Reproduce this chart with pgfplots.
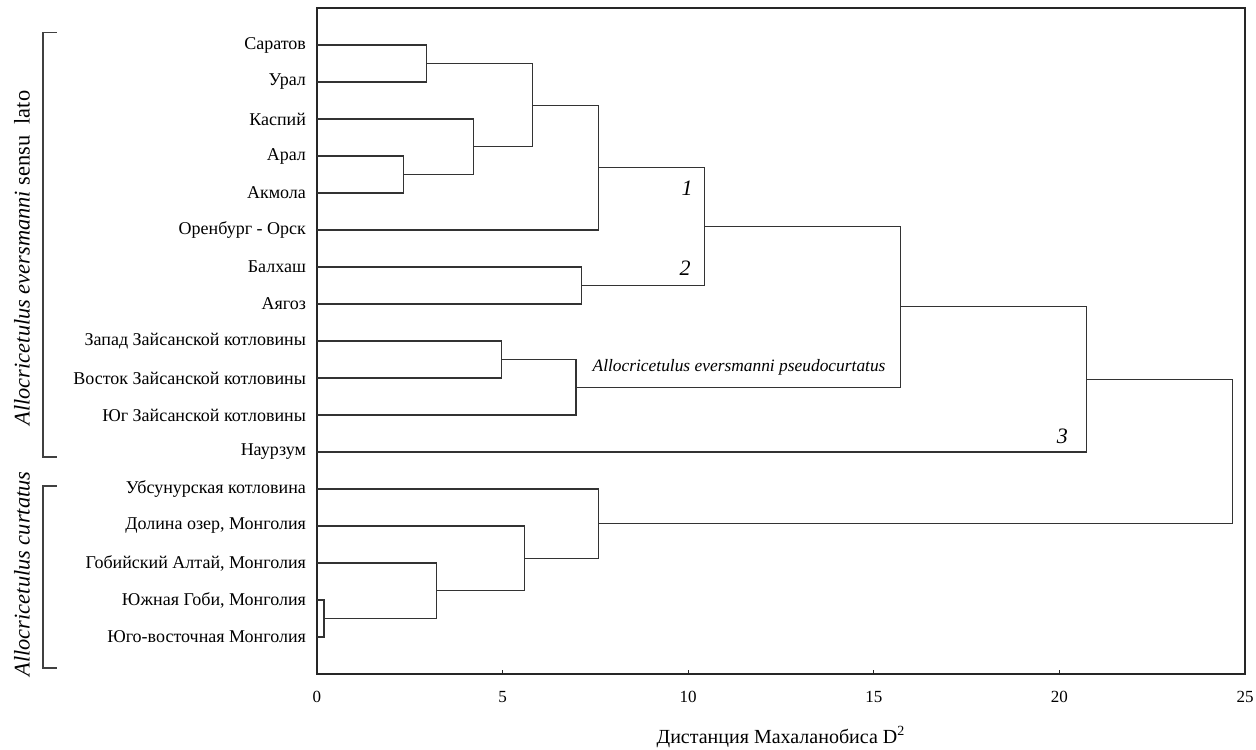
\documentclass[border=0pt]{standalone}
\usepackage{fontspec}
\setmainfont{Liberation Serif}
\usepackage{pgfplots}
\pgfplotsset{compat=1.18}
\begin{document}
\begin{tikzpicture}
\path[use as bounding box] (-158.5pt,-37.5pt) rectangle (469.5pt,337pt);
\begin{axis}[
  at={(0,0)}, anchor=south west,
  scale only axis, width=464pt, height=333pt,
  xmin=0, xmax=25, ymin=0, ymax=18,
  clip=false,
  axis line style={line width=0.7pt, black!85},
  xtick={0,5,10,15,20,25},
  xtick pos=left, ytick pos=left,
  tick align=inside,
  major tick length=2pt,
  xtick style={black!85, line width=0.5pt},
  ytick style={draw=none},
  /pgf/number format/assume math mode=true,
  xticklabel style={font=\fontsize{8.5}{10}\selectfont, yshift=-5pt},
  ytick={1,...,17},
  yticklabels={Юго-восточная Монголия, Южная Гоби{,} Монголия, Гобийский Алтай{,} Монголия, Долина озер{,} Монголия, Убсунурская котловина, Наурзум, Юг Зайсанской котловины, Восток Зайсанской котловины, Запад Зайсанской котловины, Аягоз, Балхаш, Оренбург - Орск, Акмола, Арал, Каспий, Урал, Саратов},
  yticklabel style={font=\fontsize{9}{11}\selectfont, xshift=-2pt},
  xlabel={Дистанция Махаланобиса D\textsuperscript{2}},
  xlabel style={font=\fontsize{10}{12}\selectfont, at={(axis description cs:0.5,0)}, anchor=center, yshift=-31.5pt},
  dline/.style={black!80, line width=0.6pt, mark=none, solid},
]
% Saratov-Ural
\addplot[dline] coordinates {(0,17) (2.96,17) (2.96,16) (0,16)};
% Aral-Akmola
\addplot[dline] coordinates {(0,14) (2.32,14) (2.32,13) (0,13)};
% Kaspiy + (Aral,Akmola)
\addplot[dline] coordinates {(0,15) (4.22,15) (4.22,13.5) (2.32,13.5)};
% (Sar,Ural) + (Kasp..)
\addplot[dline] coordinates {(2.96,16.5) (5.81,16.5) (5.81,14.25) (4.22,14.25)};
% + Orenburg
\addplot[dline] coordinates {(5.81,15.375) (7.58,15.375) (7.58,12) (0,12)};
% Balkhash-Ayagoz
\addplot[dline] coordinates {(0,11) (7.12,11) (7.12,10) (0,10)};
% cluster 1 + 2
\addplot[dline] coordinates {(7.58,13.6875) (10.43,13.6875) (10.43,10.5) (7.12,10.5)};
% Zaysan W-E
\addplot[dline] coordinates {(0,9) (4.97,9) (4.97,8) (0,8)};
% + South Zaysan
\addplot[dline] coordinates {(4.97,8.5) (6.98,8.5) (6.98,7) (0,7)};
% big + Zaysan
\addplot[dline] coordinates {(10.43,12.09375) (15.71,12.09375) (15.71,7.75) (6.98,7.75)};
% + Naurzum
\addplot[dline] coordinates {(15.71,9.921875) (20.73,9.921875) (20.73,6) (0,6)};
% Mongolia
\addplot[dline] coordinates {(0,2) (0.19,2) (0.19,1) (0,1)};
\addplot[dline] coordinates {(0,3) (3.22,3) (3.22,1.5) (0.19,1.5)};
\addplot[dline] coordinates {(0,4) (5.59,4) (5.59,2.25) (3.22,2.25)};
\addplot[dline] coordinates {(0,5) (7.59,5) (7.59,3.125) (5.59,3.125)};
% final
\addplot[dline] coordinates {(20.73,7.9609375) (24.67,7.9609375) (24.67,4.0625) (7.59,4.0625)};

\node[font=\fontsize{11}{13}\selectfont\itshape] at (axis cs:9.97,13.14) {1};
\node[font=\fontsize{11}{13}\selectfont\itshape] at (axis cs:9.92,10.97) {2};
\node[font=\fontsize{11}{13}\selectfont\itshape] at (axis cs:20.08,6.43) {3};
\node[font=\fontsize{8.7}{10}\selectfont\itshape] at (axis cs:11.37,8.30) {Allocricetulus eversmanni pseudocurtatus};
\end{axis}
% brackets
\draw[line width=0.6pt, black!75] (-130pt,320.6pt) -- (-137pt,320.6pt) -- (-137pt,108.5pt) -- (-130pt,108.5pt);
\draw[line width=0.6pt, black!75] (-130pt,94pt) -- (-137pt,94pt) -- (-137pt,3pt) -- (-130pt,3pt);
\node[rotate=90, font=\fontsize{11.2}{13}\selectfont] at (-147.5pt,208pt) {\textit{Allocricetulus eversmanni} sensu~~lato};
\node[rotate=90, font=\fontsize{11.2}{13}\selectfont] at (-147.5pt,50pt) {\textit{Allocricetulus curtatus}};
\end{tikzpicture}
\end{document}
